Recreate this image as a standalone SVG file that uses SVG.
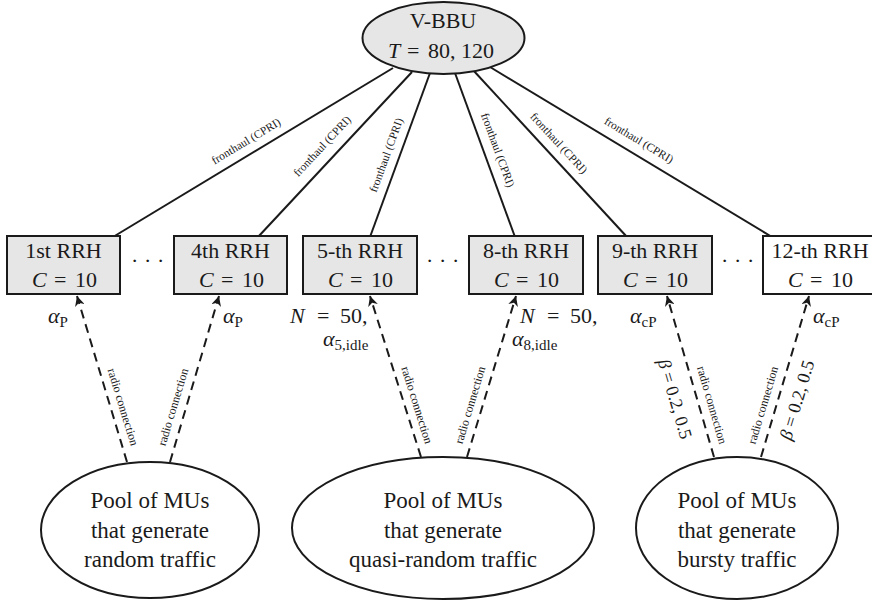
<svg xmlns="http://www.w3.org/2000/svg" width="872" height="604" viewBox="0 0 872 604">
<defs>
<style>
text{font-family:"Liberation Serif","Times New Roman",serif;fill:#1a1a1a}
.big{font-size:22px}
.pool{font-size:23px;text-anchor:middle}
.fh{font-size:11.5px;text-anchor:middle}
.rc{font-size:12px;text-anchor:middle}
.it{font-style:italic}
.sub{font-size:15px}
.node{stroke:#1a1a1a;stroke-width:2}
.grey{fill:#e6e6e6}
.white{fill:#ffffff}
.fl{stroke:#1a1a1a;stroke-width:2;fill:none}
.rl{stroke:#1a1a1a;stroke-width:2;fill:none;stroke-dasharray:9 6;marker-end:url(#arr)}
.mid{text-anchor:middle}
</style>
<marker id="arr" markerUnits="userSpaceOnUse" markerWidth="12" markerHeight="10" refX="10" refY="5" orient="auto">
<path d="M0,0 L10,5 L0,10 L3,5 z" fill="#1a1a1a"/>
</marker>
</defs>
<rect width="872" height="604" fill="#ffffff"/>

<g id="connectors">
<line class="fl" x1="393" y1="68" x2="113" y2="237"/>
<line class="fl" x1="412" y1="72" x2="258" y2="237"/>
<line class="fl" x1="430" y1="73" x2="370" y2="237"/>
<line class="fl" x1="455" y1="73" x2="515" y2="237"/>
<line class="fl" x1="473" y1="70" x2="627" y2="237"/>
<line class="fl" x1="490" y1="67" x2="772" y2="237"/>
<text class="fh" transform="translate(246,141) rotate(-31.1)" y="4">fronthaul (CPRI)</text>
<text class="fh" transform="translate(322,146) rotate(-47)" y="4">fronthaul (CPRI)</text>
<text class="fh" transform="translate(386,155) rotate(-69.9)" y="4">fronthaul (CPRI)</text>
<text class="fh" transform="translate(498,150) rotate(69.9)" y="4">fronthaul (CPRI)</text>
<text class="fh" transform="translate(559,143) rotate(47.3)" y="4">fronthaul (CPRI)</text>
<text class="fh" transform="translate(639,140) rotate(31.1)" y="4">fronthaul (CPRI)</text>

<line class="rl" x1="127" y1="462" x2="77" y2="296"/>
<line class="rl" x1="170" y1="462" x2="219" y2="296"/>
<line class="rl" x1="421" y1="457" x2="370" y2="296"/>
<line class="rl" x1="467" y1="457" x2="516" y2="296"/>
<line class="rl" x1="714" y1="457" x2="667" y2="296"/>
<line class="rl" x1="761" y1="457" x2="809" y2="296"/>
<text class="rc" transform="translate(123,407) rotate(73)" y="4">radio connection</text>
<text class="rc" transform="translate(173,407) rotate(-73.2)" y="4">radio connection</text>
<text class="rc" transform="translate(417,405) rotate(72.6)" y="4">radio connection</text>
<text class="rc" transform="translate(470,405) rotate(-73.3)" y="4">radio connection</text>
<text class="rc" transform="translate(712,405) rotate(73.7)" y="4">radio connection</text>
<text class="rc" transform="translate(763,405) rotate(-73.4)" y="4">radio connection</text>

<text class="big" x="48" y="323"><tspan class="it">α</tspan><tspan class="sub" dy="4">P</tspan></text>
<text class="big" x="223" y="323"><tspan class="it">α</tspan><tspan class="sub" dy="4">P</tspan></text>
<text class="big" x="290" y="323"><tspan class="it">N</tspan><tspan x="317">=</tspan><tspan x="340">50,</tspan></text>
<text class="big" x="323" y="346"><tspan class="it">α</tspan><tspan class="sub" dy="4">5,idle</tspan></text>
<text class="big" x="520" y="323"><tspan class="it">N</tspan><tspan x="547">=</tspan><tspan x="570">50,</tspan></text>
<text class="big" x="512" y="346"><tspan class="it">α</tspan><tspan class="sub" dy="4">8,idle</tspan></text>
<text class="big" x="630" y="323"><tspan class="it">α</tspan><tspan class="sub" dy="4">cP</tspan></text>
<text class="big" x="813" y="323"><tspan class="it">α</tspan><tspan class="sub" dy="4">cP</tspan></text>
<text style="font-size:18px" text-anchor="middle" transform="translate(675,399) rotate(73.7)" y="6"><tspan class="it">β</tspan> = 0.2, 0.5</text>
<text style="font-size:18px" text-anchor="middle" transform="translate(797,400) rotate(-73.4)" y="6"><tspan class="it">β</tspan> = 0.2, 0.5</text>
</g>

<g id="vbbu">
<ellipse class="node grey" cx="443.5" cy="38" rx="81" ry="36"/>
<text class="big mid" x="443" y="28">V-BBU</text>
<text class="big" x="388" y="58"><tspan class="it">T</tspan><tspan x="407">=</tspan><tspan x="428">80, 120</tspan></text>
</g>

<g id="rrh1">
<rect class="node grey" x="7" y="236" width="113" height="58"/>
<text class="big mid" x="63.5" y="258">1st RRH</text>
<text class="big" x="32" y="287"><tspan class="it">C</tspan><tspan x="54">=</tspan><tspan x="75">10</tspan></text>
</g>
<g id="dots1"><text class="big" x="131 144 157" y="268">···</text></g>
<g id="rrh4">
<rect class="node grey" x="174" y="236" width="113" height="58"/>
<text class="big mid" x="230.5" y="258">4th RRH</text>
<text class="big" x="199" y="287"><tspan class="it">C</tspan><tspan x="221">=</tspan><tspan x="242">10</tspan></text>
</g>
<g id="rrh5">
<rect class="node grey" x="303" y="236" width="114" height="58"/>
<text class="big mid" x="360" y="258">5-th RRH</text>
<text class="big" x="328" y="287"><tspan class="it">C</tspan><tspan x="350">=</tspan><tspan x="371">10</tspan></text>
</g>
<g id="dots2"><text class="big" x="426 439 452" y="268">···</text></g>
<g id="rrh8">
<rect class="node grey" x="469" y="236" width="114" height="58"/>
<text class="big mid" x="526" y="258">8-th RRH</text>
<text class="big" x="494" y="287"><tspan class="it">C</tspan><tspan x="516">=</tspan><tspan x="537">10</tspan></text>
</g>
<g id="rrh9">
<rect class="node grey" x="598" y="236" width="114" height="58"/>
<text class="big mid" x="655" y="258">9-th RRH</text>
<text class="big" x="623" y="287"><tspan class="it">C</tspan><tspan x="645">=</tspan><tspan x="666">10</tspan></text>
</g>
<g id="dots3"><text class="big" x="721 734 747" y="268">···</text></g>
<g id="rrh12">
<rect class="node white" x="763" y="236" width="115" height="58"/>
<text class="big mid" x="820" y="258">12-th RRH</text>
<text class="big" x="788" y="287"><tspan class="it">C</tspan><tspan x="810">=</tspan><tspan x="831">10</tspan></text>
</g>

<g id="pool1">
<ellipse class="node white" cx="150" cy="530" rx="109" ry="68"/>
<text class="pool" x="150" y="508">Pool of MUs</text>
<text class="pool" x="150" y="538">that generate</text>
<text class="pool" x="150" y="567">random traffic</text>
</g>
<g id="pool2">
<ellipse class="node white" cx="443" cy="528" rx="151" ry="71"/>
<text class="pool" x="443" y="508">Pool of MUs</text>
<text class="pool" x="443" y="538">that generate</text>
<text class="pool" x="443" y="567">quasi-random traffic</text>
</g>
<g id="pool3">
<ellipse class="node white" cx="737" cy="528" rx="101" ry="71"/>
<text class="pool" x="737" y="508">Pool of MUs</text>
<text class="pool" x="737" y="538">that generate</text>
<text class="pool" x="737" y="567">bursty traffic</text>
</g>
</svg>
